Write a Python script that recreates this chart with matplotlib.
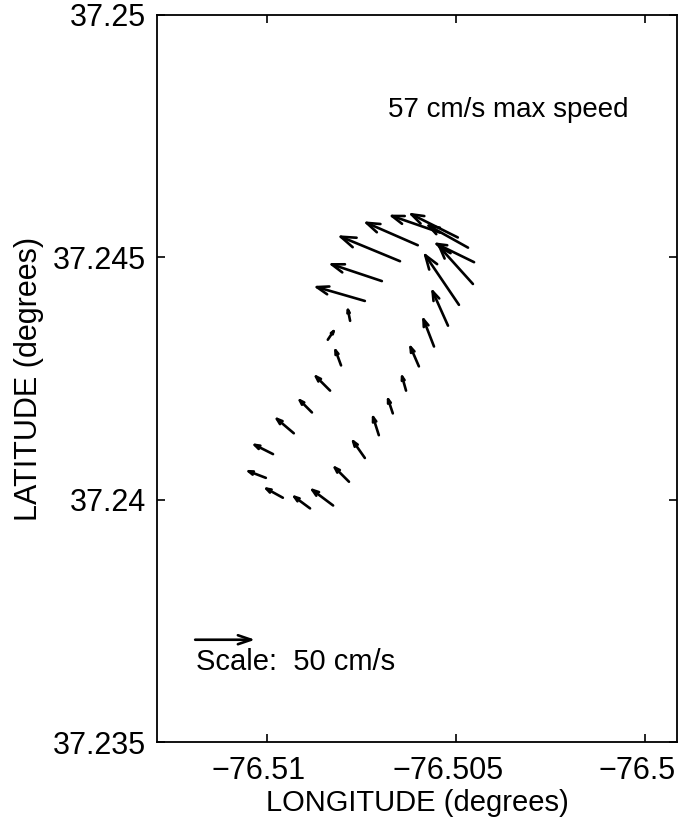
import numpy as np
import matplotlib
matplotlib.use("Agg")
import matplotlib.pyplot as plt
import matplotlib.transforms as mtransforms

plt.rcParams['font.family'] = ['Liberation Sans', 'DejaVu Sans']

# Current vectors: positions (deg) and velocity components (cm/s)
lon = [-76.50958, -76.51003, -76.50984, -76.50929, -76.50881, -76.50833,
       -76.50804, -76.50839, -76.50780, -76.50741, -76.50696, -76.50648,
       -76.50601, -76.50542, -76.50495, -76.50468, -76.50452, -76.50455,
       -76.50492, -76.50521, -76.50558, -76.50598, -76.50632, -76.50667,
       -76.50704, -76.50741, -76.50783, -76.50825, -76.50886]
lat = [37.24004, 37.24045, 37.24094, 37.24137, 37.24180, 37.24225,
       37.24277, 37.24330, 37.24369, 37.24410, 37.24451, 37.24492,
       37.24525, 37.24551, 37.24541, 37.24520, 37.24490, 37.24445,
       37.24402, 37.24359, 37.24316, 37.24275, 37.24225, 37.24178,
       37.24133, 37.24086, 37.24037, 37.23988, 37.23982]
u = [-16.7, -17.5, -18.3, -16.7, -12.5, -14.2, -5.8, 6.7, -2.5, -43.3, -45.0,
     -52.5, -45.8, -43.3, -41.7, -35.8, -34.2, -30.0, -30.0, -14.2, -10.0,
     -8.3, -4.2, -5.0, -5.8, -11.7, -14.2, -20.0, -15.8]
v = [9.2, 6.7, 9.2, 14.2, 12.5, 14.2, 15.8, 10.0, 12.5, 12.5, 15.0, 21.7,
     20.0, 15.0, 20.8, 20.0, 16.7, 33.3, 44.2, 31.7, 25.8, 19.2, 15.0, 15.0,
     18.3, 16.7, 14.2, 15.0, 11.7]

scale_lon, scale_lat, scale_u, scale_v = -76.51190, 37.23711, 50.0, 0.0

xticks = [-76.51, -76.505, -76.5]
xticklabels = ['\u221276.51', '\u221276.505', '\u221276.5']
yticks = [37.235, 37.24, 37.245, 37.25]
yticklabels = ['37.235', '37.24', '37.245', '37.25']

PX_PER_CMS = 1.2  # arrow length in pixels per cm/s
DPI = 100

fig = plt.figure(figsize=(6.92, 8.18), dpi=DPI)
ax = fig.add_axes([157/692, 1-742/818, 520/692, 727/818])
ax.set_xlim(-76.51291, -76.49915)
ax.set_ylim(37.235, 37.25)


def draw_arrow(x0, y0, uu, vv):
    dx, dy = uu*PX_PER_CMS, vv*PX_PER_CMS
    L = np.hypot(dx, dy)
    hl = 0.22*L*72/DPI
    hw = 0.075*L*72/DPI
    ax.annotate('', xy=(x0, y0), xycoords='data',
                xytext=(dx, dy), textcoords='offset pixels',
                arrowprops=dict(arrowstyle=f'<-,head_length={hl:.3f},head_width={hw:.3f}',
                                lw=1.9, color='black', shrinkA=0, shrinkB=0,
                                mutation_scale=1))


for x0, y0, uu, vv in zip(lon, lat, u, v):
    draw_arrow(x0, y0, uu, vv)

draw_arrow(scale_lon, scale_lat, scale_u, scale_v)

fs_tick = 22
ax.text(-76.51188, 37.23666, 'Scale:  50 cm/s', fontsize=21, va='center', ha='left')
ax.text(-76.50680, 37.24803, '57 cm/s max speed', fontsize=20, va='center', ha='left')

ax.set_xticks(xticks)
ax.set_xticklabels(xticklabels)
ax.set_yticks(yticks)
ax.set_yticklabels(yticklabels)
ax.tick_params(direction='in', length=6, width=1.2, labelsize=fs_tick, pad=8,
               top=True, right=True)
ax.tick_params(axis='x', pad=10)
offset = mtransforms.ScaledTranslation(-8/DPI, 0, fig.dpi_scale_trans)
for lab in ax.get_xticklabels():
    lab.set_transform(lab.get_transform() + offset)
for s in ax.spines.values():
    s.set_linewidth(1.3)

ax.set_xlabel('LONGITUDE (degrees)', fontsize=21, labelpad=2)
ax.set_ylabel('LATITUDE (degrees)', fontsize=22, labelpad=6)

fig.savefig('out.png', dpi=DPI)
